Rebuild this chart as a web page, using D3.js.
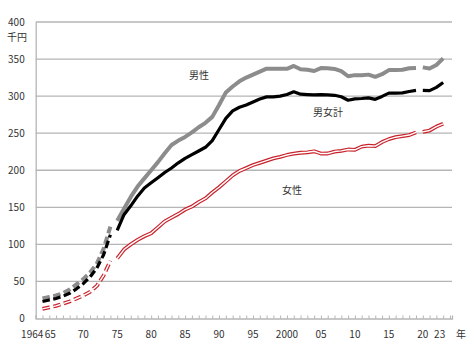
<!DOCTYPE html>
<html><head><meta charset="utf-8">
<script src="https://cdn.jsdelivr.net/npm/d3@7"></script>
<style>body{margin:0;background:#fff}svg{display:block}text{font-family:"Noto Sans CJK JP","Noto Sans",sans-serif;fill:#333}</style>
</head><body><svg id="c" width="474" height="344"></svg>
<script>
// categories (years)
const oldYears = d3.range(1964, 1975);
const mainYears = d3.range(1975, 2020);
const newYears = d3.range(2020, 2024);
// values, 千円
const maleOld  = [27,29,31,34,39,46,53,62,74,94,124];
const totalOld = [23,25,27,30,34,40,47,56,68,86,113];
const femaleOld= [13,15,17,20,23,27,31,36,44,58,78];
const maleMain = [132,148,164,178,189,200,211,223,234,240,245,251,258,264,272,288,305,313,320,325,329,333,337,337,337,
  336.8,340.7,336.2,335.5,333.9,337.8,337.7,336.7,333.7,326.8,328.3,328.3,329.0,326.0,329.6,335.1,335.2,335.5,337.6,338.0];
const totalMain = [119,140,152,165,176,183,190,197,203,210,216,221,226,231,240,255,270,280,285,288,292,296,299,299,300,
  302.2,305.8,302.6,302.1,301.6,302.0,301.8,301.1,299.1,294.5,296.2,296.8,297.7,295.7,299.6,304.0,304.0,304.3,306.2,307.7];
const femaleMain = [81,93,100,106,111,115,123,131,136,141,147,151,157,162,170,177,185,193,199,203,207,210,213,216,218,
  220.6,222.4,223.6,224.2,225.6,222.5,222.6,225.2,226.1,228.0,227.6,231.9,233.1,232.6,238.0,242.0,244.6,246.1,247.5,251.0];
const maleNew = [338.8,337.2,342.0,350.9];
const totalNew = [307.7,307.4,311.8,318.3];
const femaleNew = [251.8,253.6,258.9,262.6];
const yTicks = [0,50,100,150,200,250,300,350,400];
const xLabels = [1964,1965,1970,1975,1980,1985,1990,1995,2000,2005,2010,2015,2020,2023];
const xLabelText = ["1964","65","70","75","80","85","90","95","2000","05","10","15","20","23"];
const seriesNames = ["男性","男女計","女性"];

const svg = d3.select("#c");
const x = d3.scaleLinear().domain([1963, 2024.3]).range([35.7, 452]);
const y = d3.scaleLinear().domain([0, 400]).range([318.5, 22]);

// grid
svg.append("g").selectAll("line").data(yTicks.filter(d=>d>0)).join("line")
  .attr("x1", x(1963)).attr("x2", x(2024.3)).attr("y1", d=>y(d)).attr("y2", d=>y(d))
  .attr("stroke", "#b5b5b5").attr("stroke-width", 1.3);
// y axis
const ya = svg.append("g").attr("transform", `translate(${x(1963)},0)`)
  .call(d3.axisLeft(y).tickValues(yTicks).tickSize(0).tickPadding(11));
ya.select(".domain").attr("stroke", "#b5b5b5").attr("stroke-width", 1.3);
ya.selectAll("text").attr("font-size", 10).attr("fill", "#333")
  .attr("font-family", '"Noto Sans CJK JP",sans-serif');
// x axis
const xa = svg.append("g").attr("transform", `translate(0,${y(0)})`)
  .call(d3.axisTop(x).tickValues(d3.range(1963, 2025)).tickSize(3).tickFormat(""));
xa.select(".domain").attr("stroke", "#b5b5b5").attr("stroke-width", 1.3);
xa.selectAll(".tick line").attr("stroke", "#b5b5b5");
svg.append("g").selectAll("text").data(xLabels).join("text")
  .attr("x", (d,i)=> i===0 ? x(1965) - 6 : x(d) + (i===1 ? 1 : (d===2023 ? -3.5 : 0)))
  .attr("y", 338).attr("font-size", 10)
  .attr("text-anchor", (d,i)=> i===0 ? "end" : "middle")
  .text((d,i)=>xLabelText[i]);
svg.append("text").attr("x", 461).attr("y", 338).attr("font-size", 10).attr("text-anchor","middle").text("年");
svg.append("text").attr("x", 17).attr("y", 41).attr("font-size", 10).attr("text-anchor","middle").text("千円");

const line = d3.line().x(d=>x(d[0])).y(d=>y(d[1]));
const zip = (ys, vs) => ys.map((yy,i)=>[yy, vs[i]]);

function draw(ys, vs, color, width, dash) {
  svg.append("path").datum(zip(ys, vs)).attr("d", line).attr("fill","none")
    .attr("stroke", color).attr("stroke-width", width).attr("stroke-linejoin","round")
    .attr("stroke-dasharray", dash || null);
}
function drawDouble(ys, vs, dash) {
  draw(ys, vs, "#c8232c", 3.8, dash);
  draw(ys, vs, "#ffffff", 1.4, dash);
}
const D = "7.5,3.5";
// 女性
drawDouble(oldYears, femaleOld, D);
drawDouble(mainYears, femaleMain);
drawDouble(newYears, femaleNew);
// 男性
draw(oldYears, maleOld, "#8c8c8c", 4, D);
draw(mainYears, maleMain, "#8c8c8c", 4);
draw(newYears, maleNew, "#8c8c8c", 4);
// 男女計
draw(oldYears, totalOld, "#000", 3.2, D);
draw(mainYears, totalMain, "#000", 3.2);
draw(newYears, totalNew, "#000", 3.2);

// series labels
svg.append("text").attr("x", 199).attr("y", 79).attr("font-size", 10).attr("text-anchor","middle").text(seriesNames[0]);
svg.append("text").attr("x", 328).attr("y", 116).attr("font-size", 10).attr("text-anchor","middle").text(seriesNames[1]);
svg.append("text").attr("x", 292).attr("y", 194).attr("font-size", 10).attr("text-anchor","middle").text(seriesNames[2]);
</script></body></html>
